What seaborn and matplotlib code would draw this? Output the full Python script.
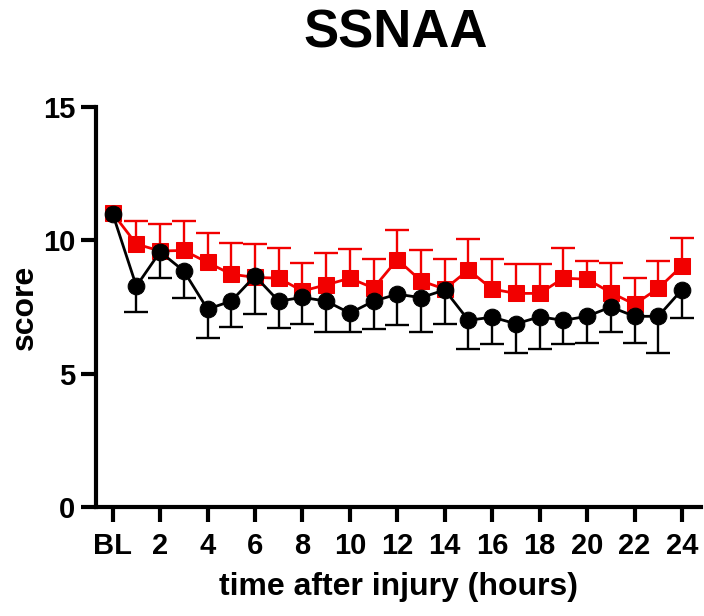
import numpy as np
import pandas as pd
import matplotlib
matplotlib.use("Agg")
import matplotlib.pyplot as plt
import seaborn as sns

# hours after injury (0 = baseline)
hours = list(range(25))
tick_pos = list(range(0, 25, 2))
tick_labels = ["BL"] + [str(h) for h in range(2, 25, 2)]

# red group: mean and upper SEM bound
red_mean = [11.02, 9.86, 9.60, 9.62, 9.17, 8.73, 8.61, 8.58, 8.10, 8.33, 8.58, 8.21, 9.28,
            8.48, 8.17, 8.89, 8.17, 8.01, 8.01, 8.58, 8.54, 8.04, 7.60, 8.20, 9.04]
red_upper = [11.02, 10.72, 10.60, 10.72, 10.27, 9.91, 9.86, 9.71, 9.16, 9.54, 9.66, 9.30, 10.40,
             9.64, 9.30, 10.05, 9.30, 9.11, 9.11, 9.71, 9.24, 9.16, 8.60, 9.24, 10.09]

# black group: mean and lower SEM bound
black_mean = [11.00, 8.28, 9.57, 8.85, 7.42, 7.72, 8.66, 7.72, 7.86, 7.72, 7.27, 7.72, 7.98,
              7.85, 8.14, 7.00, 7.12, 6.87, 7.13, 7.00, 7.15, 7.50, 7.15, 7.15, 8.15]
black_lower = [11.00, 7.32, 8.57, 7.82, 6.32, 6.74, 7.22, 6.70, 6.85, 6.57, 6.57, 6.66, 6.82,
               6.57, 6.86, 5.92, 6.10, 5.79, 5.92, 6.10, 6.14, 6.55, 6.14, 5.76, 7.08]

RED = "#f20000"

sns.set_style("ticks")
plt.rcParams["font.family"] = ["Liberation Sans", "DejaVu Sans"]
plt.rcParams["font.weight"] = "bold"
plt.rcParams["text.color"] = "black"
plt.rcParams["axes.labelcolor"] = "black"
plt.rcParams["xtick.color"] = "black"
plt.rcParams["ytick.color"] = "black"
plt.rcParams["axes.edgecolor"] = "black"

fig = plt.figure(figsize=(7.04, 6.16), dpi=100)
ax = fig.add_axes([0.1364, 0.177, 0.8593, 0.6493])

red_df = pd.DataFrame({"hour": hours, "score": red_mean})
black_df = pd.DataFrame({"hour": hours, "score": black_mean})


def one_sided_bars(x, start, end, color, z):
    # bar from the mean to one bound, cap only at the far end
    start = np.asarray(start, float)
    end = np.asarray(end, float)
    keep = np.abs(end - start) > 1e-6
    x = np.asarray(x)[keep]
    ax.vlines(x, start[keep], end[keep], color=color, linewidth=1.7, zorder=z)
    ax.plot(x, end[keep], linestyle="none", marker="_", markersize=17,
            markeredgewidth=1.7, color=color, zorder=z)


# red: error bars above only
one_sided_bars(hours, red_mean, red_upper, RED, 2)
sns.lineplot(data=red_df, x="hour", y="score", ax=ax, color=RED, linewidth=2,
             marker="s", markersize=11.5, markeredgecolor=RED, zorder=3)

# black: error bars below only
one_sided_bars(hours, black_mean, black_lower, "black", 4)
sns.lineplot(data=black_df, x="hour", y="score", ax=ax, color="black", linewidth=2,
             marker="o", markersize=12, markeredgecolor="black", zorder=5)

ax.set_xlim(-0.7, 24.8)
ax.set_ylim(0, 15)
ax.set_xticks(tick_pos)
ax.set_xticklabels(tick_labels)
ax.set_yticks([0, 5, 10, 15])
ax.tick_params(axis="both", labelsize=21, width=3, length=11, direction="out")
ax.tick_params(axis="x", pad=7)
ax.tick_params(axis="y", pad=4)
for lab in ax.get_xticklabels() + ax.get_yticklabels():
    lab.set_fontweight("bold")

sns.despine(ax=ax)
ax.spines["left"].set_linewidth(3)
ax.spines["bottom"].set_linewidth(3)

ax.set_xlabel("time after injury (hours)", fontsize=23, fontweight="bold", labelpad=9)
ax.set_ylabel("score", fontsize=23, fontweight="bold", labelpad=2)
fig.text(0.5625, 1 - 33 / 616, "SSNAA", fontsize=38, fontweight="bold",
         ha="center", va="center")

fig.savefig("out.png", dpi=100)
